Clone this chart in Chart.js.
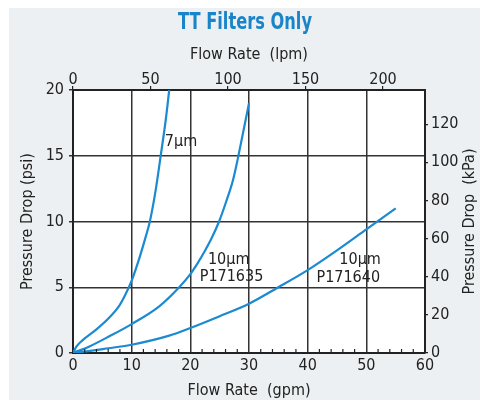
<!DOCTYPE html>
<html>
<head>
<meta charset="utf-8">
<script src="https://cdn.jsdelivr.net/npm/chart.js@4/dist/chart.umd.min.js"></script>
<style>
  html, body { margin: 0; padding: 0; background: #fff; }
</style>
</head>
<body>
<canvas id="chart" width="480" height="400"></canvas>
<script>
// flow (gpm) / pressure drop (psi)
const flow7 = [0, 0.6, 1.7, 4.0, 6.2, 7.9, 9.0, 10.0, 11.3, 12.5, 13.1, 14.1, 14.95, 15.8, 16.4];
const psi7 = [0, 0.5, 1.0, 1.8, 2.7, 3.6, 4.5, 5.5, 7.2, 9.0, 10.0, 12.4, 15.0, 17.7, 20.0];

const flow635 = [0, 2.8, 6.2, 10.0, 14.7, 18.1, 20.0, 21.2, 22.4, 23.6, 24.9, 26.1, 27.3, 28.1, 29.1, 30.0];
const psi635 = [0, 0.5, 1.27, 2.2, 3.55, 5.0, 6.0, 6.8, 7.7, 8.7, 10.0, 11.5, 13.2, 14.8, 17.0, 19.0];

const flow640 = [0, 2.3, 5.1, 10.0, 16.4, 20.0, 25.0, 30.0, 35.0, 40.0, 45.0, 50.0, 55.0];
const psi640 = [0, 0.13, 0.3, 0.63, 1.32, 1.9, 2.8, 3.75, 5.0, 6.3, 7.8, 9.4, 11.0];

const gpmTicks = [0, 10, 20, 30, 40, 50, 60];
const gpmMinor = [2, 4, 6, 8, 12, 14, 16, 18, 22, 24, 26, 28, 32, 34, 36, 38, 42, 44, 46, 48, 52, 54, 56, 58];
const lpmTicks = [0, 50, 100, 150, 200];
const psiTicks = [0, 5, 10, 15, 20];
const kpaTicks = [0, 20, 40, 60, 80, 100, 120];

const chartTitle = 'TT Filters Only';
const curveLabels = [['7µm'], ['10µm', 'P171635'], ['10µm', 'P171640']];

const LPM_PER_GPM = 3.785;
const KPA_PER_PSI = 6.895;

const FONT = '"DejaVu Sans Condensed", "Liberation Sans Narrow", sans-serif';
const INK = '#222';
const LINE = '#1b8ad0';

// where each label's lines start (gpm, psi of baseline)
const labelAnchors = [
  [[15.65, 15.75]],
  [[23.0, 6.8], [21.6, 5.45]],
  [[45.4, 6.75], [41.5, 5.4]]
];

const pts = (xs, ys) => xs.map((x, i) => ({ x: x, y: ys[i] }));
const fixTicks = arr => scale => { scale.ticks = arr.map(v => ({ value: v })); };

const extras = {
  id: 'extras',
  beforeDraw(chart) {
    const { ctx, chartArea: a } = chart;
    ctx.save();
    ctx.fillStyle = '#edf0f2';
    ctx.fillRect(9, 8, 471, 392);
    ctx.fillStyle = '#fff';
    ctx.fillRect(a.left, a.top, a.right - a.left, a.bottom - a.top);
    ctx.restore();
  },
  afterDraw(chart) {
    const { ctx, chartArea: a, scales } = chart;

    // title, squeezed a bit to look like a condensed bold face
    ctx.save();
    ctx.fillStyle = '#1a84c8';
    ctx.font = 'bold 23px ' + FONT;
    ctx.textAlign = 'center';
    ctx.textBaseline = 'middle';
    const w = ctx.measureText(chartTitle).width;
    ctx.translate(245, 23);
    ctx.scale(Math.min(1, 134 / w), 1);
    ctx.fillText(chartTitle, 0, 0);
    ctx.restore();

    ctx.save();
    // minor ticks along the bottom
    ctx.strokeStyle = INK;
    ctx.lineWidth = 1.2;
    gpmMinor.forEach(v => {
      const px = scales.x.getPixelForValue(v);
      ctx.beginPath();
      ctx.moveTo(px, a.bottom);
      ctx.lineTo(px, a.bottom - 4);
      ctx.stroke();
    });
    // right axis title, reading bottom to top
    ctx.fillStyle = INK;
    ctx.font = '16px ' + FONT;
    ctx.textAlign = 'center';
    ctx.textBaseline = 'middle';
    ctx.translate(470, (a.top + a.bottom) / 2);
    ctx.rotate(-Math.PI / 2);
    ctx.fillText('Pressure Drop  (kPa)', 0, 0);
    ctx.restore();

    ctx.save();
    ctx.fillStyle = INK;
    ctx.font = '16px ' + FONT;
    ctx.textAlign = 'left';
    ctx.textBaseline = 'alphabetic';
    curveLabels.forEach((lines, i) => {
      lines.forEach((t, j) => {
        const [gx, gy] = labelAnchors[i][j];
        ctx.fillText(t, scales.x.getPixelForValue(gx), scales.y.getPixelForValue(gy));
      });
    });
    ctx.restore();
  }
};

Chart.defaults.font.family = FONT;
Chart.defaults.color = INK;

const lineSet = (label, xs, ys) => ({
  label: label,
  data: pts(xs, ys),
  showLine: true,
  borderColor: LINE,
  borderWidth: 2.2,
  pointRadius: 0,
  cubicInterpolationMode: 'monotone',
  fill: false
});

new Chart(document.getElementById('chart'), {
  type: 'scatter',
  data: {
    datasets: [
      lineSet('7µm', flow7, psi7),
      lineSet('10µm P171635', flow635, psi635),
      lineSet('10µm P171640', flow640, psi640)
    ]
  },
  options: {
    responsive: false,
    animation: false,
    layout: { padding: { top: 38, left: 9, right: 0, bottom: 0 } },
    plugins: {
      legend: { display: false },
      tooltip: { enabled: false },
      title: { display: false }
    },
    scales: {
      x: {
        type: 'linear',
        position: 'bottom',
        min: 0,
        max: 60,
        afterBuildTicks: fixTicks(gpmTicks),
        afterFit: s => { s.height = 47; },
        grid: { color: '#333', lineWidth: 1.5, drawTicks: false },
        border: { color: INK, width: 2 },
        ticks: { font: { size: 16 }, padding: 3, color: INK, maxRotation: 0 },
        title: { display: true, text: 'Flow Rate  (gpm)', font: { size: 16 }, padding: { top: 0, bottom: 0 } }
      },
      x2: {
        type: 'linear',
        position: 'top',
        min: 0,
        max: 60 * LPM_PER_GPM,
        afterBuildTicks: fixTicks(lpmTicks),
        afterFit: s => { s.height = 52; },
        grid: { drawOnChartArea: false, drawTicks: true, tickLength: 4, color: INK, lineWidth: 1.2 },
        border: { color: INK, width: 2 },
        ticks: { font: { size: 16 }, padding: -3, color: INK, maxRotation: 0 },
        title: { display: true, text: 'Flow Rate  (lpm)', font: { size: 16 }, padding: { top: 7, bottom: 0 } }
      },
      y: {
        type: 'linear',
        position: 'left',
        min: 0,
        max: 20,
        afterBuildTicks: fixTicks(psiTicks),
        afterFit: s => { s.width = 64; },
        grid: { color: '#333', lineWidth: 1.5, tickLength: 4 },
        border: { color: INK, width: 2 },
        ticks: { font: { size: 16 }, padding: 5, color: INK },
        title: { display: true, text: 'Pressure Drop (psi)', font: { size: 16 }, padding: { top: 9, bottom: 0 } }
      },
      y2: {
        type: 'linear',
        position: 'right',
        min: 0,
        max: 20 * KPA_PER_PSI,
        afterBuildTicks: fixTicks(kpaTicks),
        afterFit: s => { s.width = 55; },
        grid: { drawOnChartArea: false, drawTicks: true, tickLength: 3, color: INK, lineWidth: 1.2 },
        border: { color: INK, width: 2 },
        ticks: { font: { size: 16 }, padding: 3, color: INK },
        title: { display: false }
      }
    }
  },
  plugins: [extras]
});
</script>
</body>
</html>
